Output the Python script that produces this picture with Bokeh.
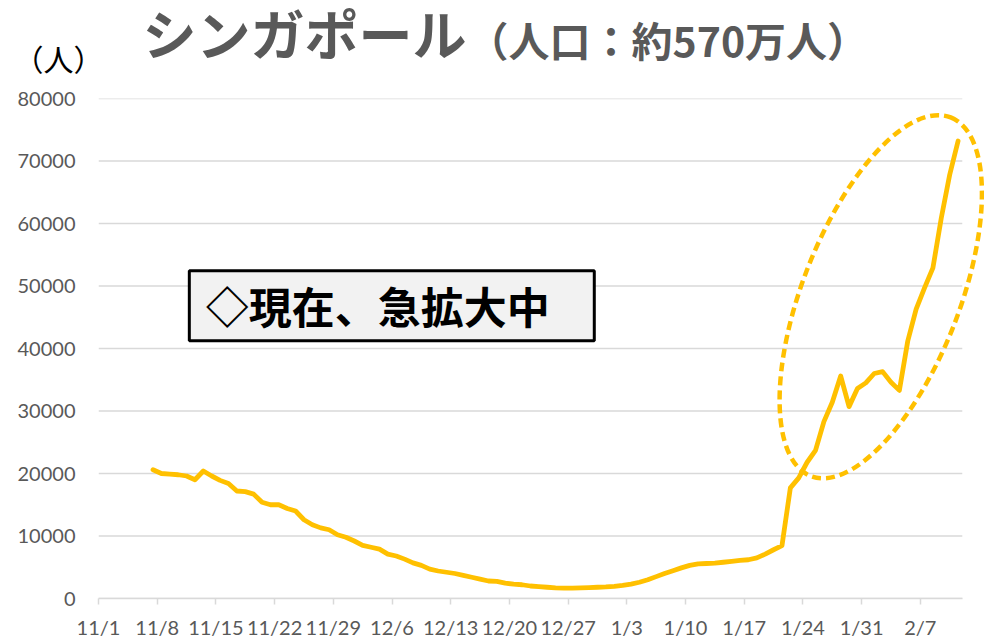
import pandas as pd
from bokeh.plotting import figure
from bokeh.layouts import column
from bokeh.models import Range1d, FixedTicker, Label, BoxAnnotation
from bokeh.embed import file_html
from bokeh.resources import INLINE

# ---- data ----
dates = pd.date_range("2021-11-07", "2022-02-11", freq="D")
cases = [
    20600, 20000, 19900, 19800, 19600, 19000, 20400, 19600, 18900, 18400,
    17200, 17100, 16700, 15400, 15000, 15000, 14400, 14000, 12600, 11800,
    11300, 11000, 10200, 9800, 9200, 8500, 8200, 7900, 7100, 6800,
    6300, 5700, 5300, 4700, 4400, 4200, 4000, 3700, 3400, 3100,
    2800, 2750, 2450, 2300, 2200, 2000, 1900, 1800, 1700, 1650,
    1650, 1700, 1750, 1800, 1850, 1950, 2100, 2300, 2600, 3000,
    3500, 4000, 4450, 4900, 5300, 5550, 5600, 5650, 5800, 5950,
    6100, 6200, 6500, 7100, 7800, 8450, 17700, 19300, 21800, 23700,
    28300, 31400, 35600, 30700, 33600, 34500, 36000, 36300, 34600, 33300,
    41200, 46300, 49700, 52900, 60900, 67800, 73200,
]
x_tick_labels = ["11/1", "11/8", "11/15", "11/22", "11/29", "12/6", "12/13",
                 "12/20", "12/27", "1/3", "1/10", "1/17", "1/24", "1/31", "2/7"]
y_ticks = [0, 10000, 20000, 30000, 40000, 50000, 60000, 70000, 80000]
unit_label = "（人）"

origin = pd.Timestamp("2021-11-01")
x_days = [(d - origin).days + 0.5 for d in dates]   # points sit mid-day
x_ticks = [7 * i for i in range(len(x_tick_labels))]
axis_end = (pd.Timestamp("2022-02-12") - origin).days

GOLD = "#FFC000"
GRID = "#D9D9D9"
TXT = "#595959"
CJK = "Noto Sans CJK JP"
LAT = "Lato"

# ---- title strip (its frame lines up with the chart frame below) ----
top = figure(width=984, height=80, output_backend="svg", toolbar_location=None,
             x_range=Range1d(98, 984), y_range=Range1d(80, 0),
             x_axis_location=None, y_axis_location="left",
             min_border_left=98, min_border_right=0, min_border_top=0, min_border_bottom=0,
             outline_line_color=None, background_fill_color="white",
             border_fill_color="white")
top.grid.visible = False
top.yaxis.ticker = FixedTicker(ticks=[59])
top.yaxis.major_label_overrides = {59: unit_label}
top.yaxis.axis_line_color = None
top.yaxis.major_tick_line_color = None
top.yaxis.minor_tick_line_color = None
top.yaxis.major_tick_out = 0
top.yaxis.major_label_text_font = CJK
top.yaxis.major_label_text_font_size = "30px"
top.yaxis.major_label_text_color = "black"
top.yaxis.major_label_standoff = -5

top.add_layout(Label(x=142, y=32, text="シンガポール", text_font=CJK,
                     text_font_style="bold", text_font_size="54px", text_color=TXT,
                     text_baseline="middle"))
top.add_layout(Label(x=467, y=38, text="（人口：約570万人）", text_font=CJK,
                     text_font_style="bold", text_font_size="41px", text_color=TXT,
                     text_baseline="middle"))

# ---- main chart ----
p = figure(width=984, height=561, output_backend="svg", toolbar_location=None,
           x_range=Range1d(0, 105.65), y_range=Range1d(0, 80000),
           min_border_left=98, min_border_right=0, min_border_top=18,
           min_border_bottom=42, outline_line_color=None,
           background_fill_color="white", border_fill_color="white")

p.grid.visible = False
p.segment(x0=[0] * len(y_ticks), x1=[axis_end] * len(y_ticks), y0=y_ticks, y1=y_ticks,
          line_color=GRID, line_width=1.5)

p.xaxis.ticker = FixedTicker(ticks=x_ticks)
p.xaxis.major_label_overrides = {t: lab for t, lab in zip(x_ticks, x_tick_labels)}
p.xaxis.bounds = (0, axis_end)
p.xaxis.axis_line_color = GRID
p.xaxis.axis_line_width = 1.5
p.xaxis.major_tick_line_color = GRID
p.xaxis.major_tick_line_width = 1.5
p.xaxis.major_tick_out = 6
p.xaxis.major_tick_in = 0
p.xaxis.minor_tick_line_color = None
p.xaxis.major_label_text_font = LAT
p.xaxis.major_label_text_font_size = "20px"
p.xaxis.major_label_text_color = TXT
p.xaxis.major_label_standoff = 10

p.yaxis.ticker = FixedTicker(ticks=y_ticks)
p.yaxis.axis_line_color = None
p.yaxis.major_tick_line_color = None
p.yaxis.minor_tick_line_color = None
p.yaxis.major_tick_out = 0
p.yaxis.major_label_text_font = LAT
p.yaxis.major_label_text_font_size = "20px"
p.yaxis.major_label_text_color = TXT
p.yaxis.major_label_standoff = 23

p.line(x_days, cases, line_color=GOLD, line_width=4.8, line_join="round", line_cap="round")

p.ellipse(x=[93.28], y=[48280], width=385, height=157, width_units="screen",
          height_units="screen", angle=1.199, fill_color=None, line_color=GOLD,
          line_width=4.5, line_dash="9 5")

p.add_layout(BoxAnnotation(left=10.83, right=59.12, bottom=41254, top=52426,
                           fill_color="#F2F2F2", fill_alpha=1.0,
                           line_color="black", line_width=3, line_alpha=1.0))
p.add_layout(Label(x=12.8, y=46900, text="◇現在、急拡大中", text_font=CJK,
                   text_font_style="bold", text_font_size="43px", text_color="black",
                   text_baseline="middle"))

open("out.html", "w").write(file_html(column(top, p, spacing=0), INLINE))
